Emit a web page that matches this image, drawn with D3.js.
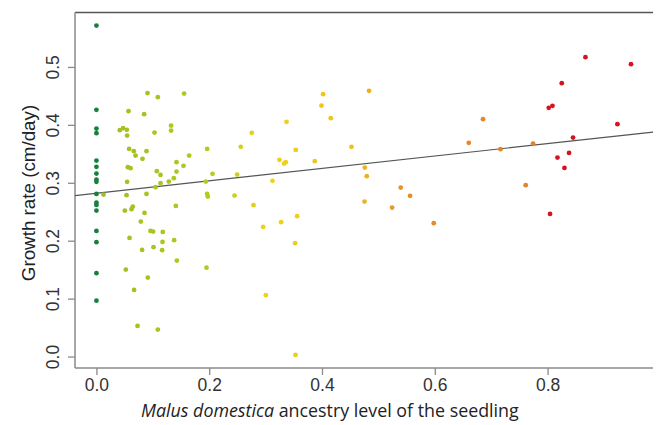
<!DOCTYPE html>
<html lang="en">
<head>
    <meta charset="UTF-8" />
    <title>Growth rate vs ancestry</title>
    <script src="https://d3js.org/d3.v7.js"></script>
    <style>
        body { margin: 0; background: #fff; }
    </style>
</head>
<body>
    <script>
        // seedlings with no M. domestica ancestry (x = 0)
        var pureRates = [0.5715, 0.4259, 0.3936, 0.3857, 0.3383, 0.3275, 0.3159, 0.3055, 0.3016,
            0.2808, 0.2658, 0.2618, 0.2520, 0.2169, 0.1974, 0.1439, 0.0965];

        // hybrids: ancestry level and growth rate
        var ancestry = [0.0906, 0.1089, 0.1555, 0.0569, 0.0846, 0.0415, 0.0473, 0.0539, 0.0544, 0.1030,
            0.1324, 0.1324, 0.1963, 0.0580, 0.0663, 0.0693, 0.0888, 0.0817, 0.1644, 0.1420,
            0.0557, 0.0605, 0.1544, 0.1071, 0.1137, 0.1420, 0.1372, 0.1284, 0.1137, 0.0544,
            0.1940, 0.1048, 0.0126, 0.0534, 0.0888, 0.1963, 0.1975, 0.1408, 0.0504, 0.0622,
            0.0645, 0.0853, 0.0787, 0.0959, 0.1005, 0.1177, 0.0587, 0.1378, 0.1172, 0.1012,
            0.0810, 0.1165, 0.1426, 0.1952, 0.0521, 0.0911, 0.0668, 0.0729, 0.1089,
            0.4020, 0.4835, 0.3991, 0.4156, 0.3371, 0.2755, 0.2560, 0.3535, 0.4523, 0.3246,
            0.3328, 0.3358, 0.3872, 0.2059, 0.2495, 0.3122, 0.4759, 0.4794, 0.2449, 0.2785,
            0.4754, 0.3559, 0.3275, 0.2956, 0.3523, 0.3004, 0.3530,
            0.8672, 0.9480, 0.8252, 0.8021, 0.8087, 0.6856, 0.9239, 0.6603, 0.8452, 0.7165,
            0.7743, 0.8176, 0.8381, 0.8300, 0.5397, 0.5562, 0.5243, 0.7613, 0.5982, 0.8044];
        var growth = [0.4548, 0.4478, 0.4541, 0.4237, 0.4185, 0.3908, 0.3943, 0.3914, 0.3815, 0.3867,
            0.3988, 0.3902, 0.3585, 0.3585, 0.3546, 0.3470, 0.3546, 0.3413, 0.3470, 0.3356,
            0.3269, 0.3252, 0.3292, 0.3200, 0.3136, 0.3193, 0.3079, 0.3021, 0.2993, 0.3016,
            0.3021, 0.2924, 0.2796, 0.2786, 0.2808, 0.2808, 0.2762, 0.2601, 0.2520, 0.2544,
            0.2589, 0.2480, 0.2330, 0.2169, 0.2157, 0.2152, 0.2048, 0.2009, 0.1979, 0.1888,
            0.1841, 0.1836, 0.1656, 0.1535, 0.1501, 0.1363, 0.1150, 0.0528, 0.0465,
            0.4530, 0.4587, 0.4333, 0.4116, 0.4052, 0.3862, 0.3620, 0.3568, 0.3620, 0.3396,
            0.3332, 0.3356, 0.3373, 0.3154, 0.3142, 0.3033, 0.3262, 0.3114, 0.2779, 0.2613,
            0.2675, 0.2423, 0.2320, 0.2238, 0.1957, 0.1059, 0.0028,
            0.5169, 0.5048, 0.4720, 0.4294, 0.4328, 0.4098, 0.4012, 0.3689, 0.3781, 0.3580,
            0.3677, 0.3435, 0.3516, 0.3257, 0.2917, 0.2774, 0.2572, 0.2959, 0.2302, 0.2463];

        // fitted line: intercept, slope
        var fitCoef = [0.282, 0.107];

        var xTicks = [0, 0.2, 0.4, 0.6, 0.8];
        var yTicks = [0, 0.1, 0.2, 0.3, 0.4, 0.5];

        var w = 656;
        var h = 425;
        var plotLeft = 75, plotRight = 653, plotTop = 12.5, plotBottom = 368;
        var tickFont = "'Liberation Sans', Arial, sans-serif";

        var points = pureRates.map(function (r) { return { x: 0, y: r }; })
            .concat(ancestry.map(function (a, i) { return { x: a, y: growth[i] }; }));

        var svg = d3.select("body")
            .append("svg")
            .attr("width", w)
            .attr("height", h);

        // R style 4% padding around the data range
        var xScale = d3.scaleLinear()
            .domain([-0.038, 0.987])
            .range([plotLeft, plotRight]);

        var yScale = d3.scaleLinear()
            .domain([-0.0198, 0.594])
            .range([plotBottom, plotTop]);

        var colour = d3.scaleLinear()
            .domain([0, 0.005, 0.2, 0.3, 0.45, 0.55, 0.78, 0.79, 1])
            .range(["#17803b", "#9dbf22", "#b7c91e", "#ead619", "#f0c01e", "#e88c25", "#e3822a", "#d4141f", "#d4141f"])
            .clamp(true);

        // frame: top, left, bottom
        svg.append("line")
            .attr("x1", plotLeft).attr("x2", plotRight)
            .attr("y1", plotTop).attr("y2", plotTop)
            .attr("stroke", "#555").attr("stroke-width", 1.5);
        svg.append("line")
            .attr("x1", plotLeft).attr("x2", plotLeft)
            .attr("y1", plotTop).attr("y2", plotBottom)
            .attr("stroke", "#8a8a8a").attr("stroke-width", 1.5);
        svg.append("line")
            .attr("x1", plotLeft).attr("x2", plotRight)
            .attr("y1", plotBottom).attr("y2", plotBottom)
            .attr("stroke", "#8a8a8a").attr("stroke-width", 1.5);

        var xAxis = svg.append("g")
            .attr("transform", "translate(0," + plotBottom + ")")
            .call(d3.axisBottom(xScale).tickValues(xTicks).tickSize(7).tickPadding(4).tickFormat(d3.format(".1f")));

        var yAxis = svg.append("g")
            .attr("transform", "translate(" + plotLeft + ",0)")
            .call(d3.axisLeft(yScale).tickValues(yTicks).tickSize(7).tickFormat(d3.format(".1f")));

        [xAxis, yAxis].forEach(function (ax) {
            ax.attr("font-family", tickFont).attr("font-size", 17.5);
            ax.select(".domain").remove();
            ax.selectAll(".tick line").attr("stroke", "#8a8a8a").attr("stroke-width", 1.3);
            ax.selectAll(".tick text").attr("fill", "#333");
        });

        // R prints y labels parallel to the axis
        yAxis.selectAll(".tick text")
            .attr("x", null)
            .attr("dy", null)
            .attr("text-anchor", "middle")
            .attr("transform", "translate(-16,0) rotate(-90)");

        // regression line
        var xr = xScale.domain();
        svg.append("line")
            .attr("x1", xScale(xr[0]))
            .attr("y1", yScale(fitCoef[0] + fitCoef[1] * xr[0]))
            .attr("x2", xScale(xr[1]))
            .attr("y2", yScale(fitCoef[0] + fitCoef[1] * xr[1]))
            .attr("stroke", "#555")
            .attr("stroke-width", 1.2);

        svg.selectAll("circle")
            .data(points)
            .enter()
            .append("circle")
            .attr("cx", function (d) { return xScale(d.x); })
            .attr("cy", function (d) { return yScale(d.y); })
            .attr("r", 2.4)
            .attr("fill", function (d) { return colour(d.x); });

        // axis titles
        svg.append("text")
            .attr("text-anchor", "middle")
            .attr("transform", "translate(35,193) rotate(-90)")
            .attr("fill", "#222")
            .attr("font-family", tickFont)
            .attr("font-size", 18.8)
            .text("Growth rate (cm/day)");

        var xTitle = svg.append("text")
            .attr("x", 141)
            .attr("y", 417)
            .attr("fill", "#222")
            .attr("font-family", "'Open Sans', sans-serif")
            .attr("font-size", 16);
        xTitle.append("tspan").attr("font-style", "italic").text("Malus domestica");
        xTitle.append("tspan").text(" ancestry level of the seedling");

        // fit the title to the width it has in the figure
        var len = xTitle.node().getComputedTextLength();
        xTitle.attr("font-size", (16 * 378 / len).toFixed(2));
    </script>
</body>
</html>
